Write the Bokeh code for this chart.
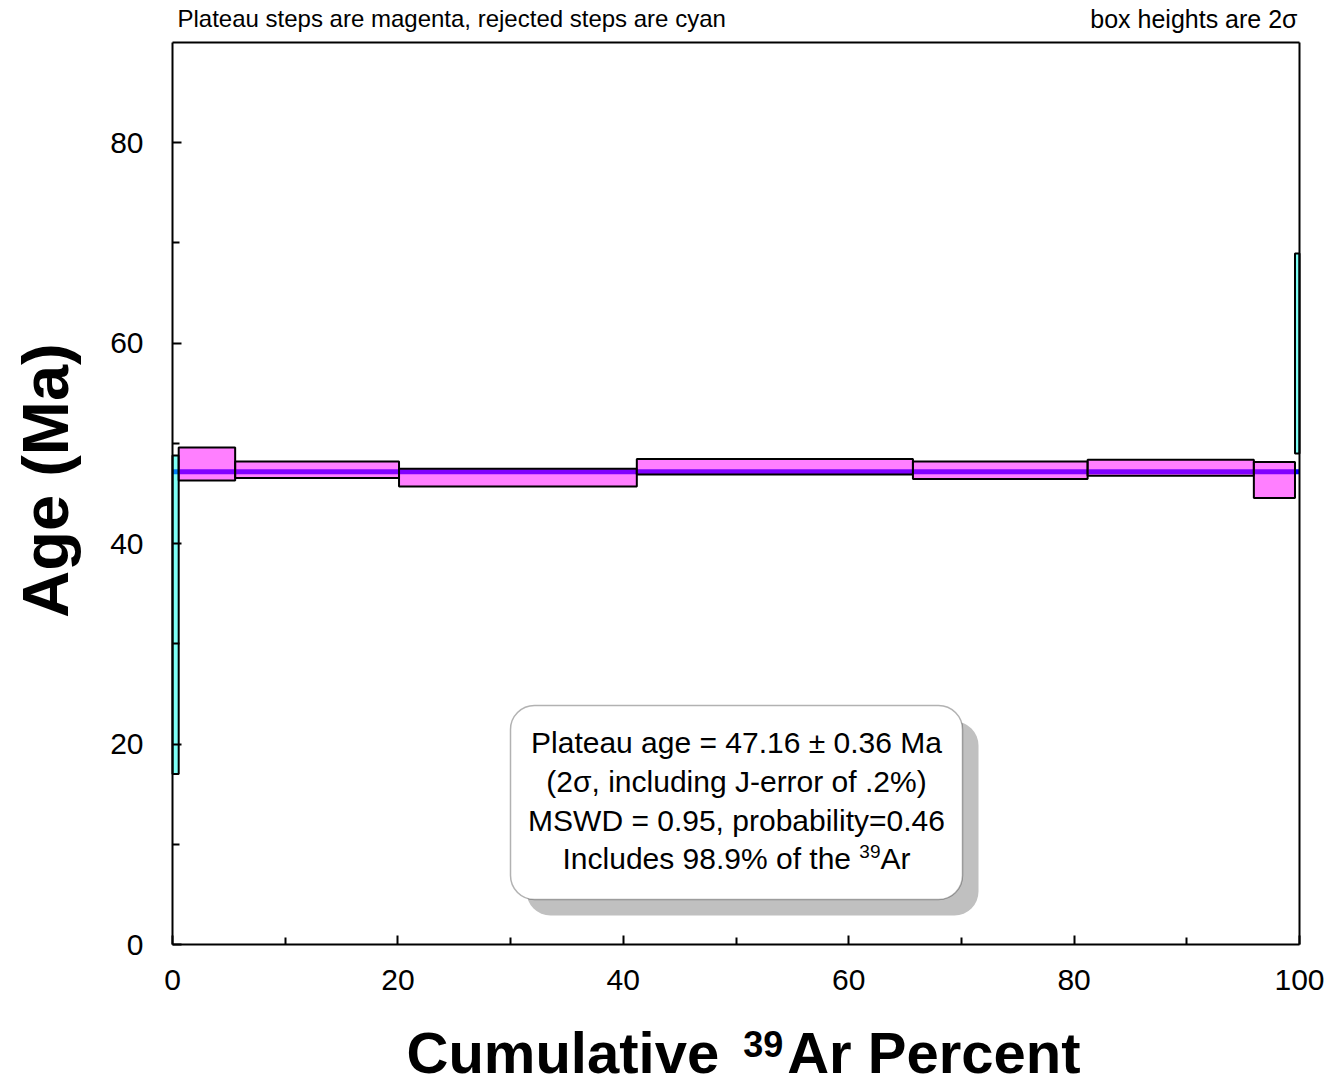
import math
from bokeh.plotting import figure
from bokeh.models import (Range1d, FixedTicker, Label, BoxAnnotation, ColumnDataSource,
                          LinearAxis)
from bokeh.embed import file_html
from bokeh.resources import INLINE

# ---- data ----
step_bounds = [0.0, 0.55, 5.56, 20.1, 41.2, 65.7, 81.2, 95.95, 99.6, 100.0]   # cumulative 39Ar %
step_age = [32.9, 47.95, 47.375, 46.59, 47.67, 47.325, 47.575, 46.345, 58.975]  # Ma
step_err2s = [15.9, 1.65, 0.825, 0.89, 0.77, 0.875, 0.795, 1.795, 9.975]        # 2 sigma
step_in_plateau = [False, True, True, True, True, True, True, True, False]
plateau_age = 47.16
x_ticks = [0, 20, 40, 60, 80, 100]
x_minor = [10, 30, 50, 70, 90]
y_ticks = [0, 20, 40, 60, 80]
y_minor = [10, 30, 50, 70]
x_lim = (0, 100)
y_lim = (0, 90)
box_lines = ["Plateau age = 47.16 \u00b1 0.36 Ma",
             "(2\u03c3, including J-error of .2%)",
             "MSWD = 0.95, probability=0.46"]
box_last = ("Includes 98.9% of the ", "39", "Ar")
xlabel_parts = ("Cumulative", "39", "Ar Percent")

FONT = "Liberation Sans"
W, H = 1332, 1085
# where the axes box sits on the canvas (px)
BOX_L, BOX_R, BOX_T, BOX_B = 172, 1299, 42, 944
SX = (BOX_R - BOX_L) / (x_lim[1] - x_lim[0])
SY = (BOX_B - BOX_T) / (y_lim[1] - y_lim[0])
BASE_SHIFT = 0.36   # em; compensates where the renderer puts the alphabetic baseline

# Arial / Liberation Sans advance widths (per 1 em)
REG = {' ': .278, '%': .889, '.': .278, 'A': .667, 'I': .278, 'a': .556, 'c': .5, 'd': .556,
       'e': .556, 'f': .278, 'h': .556, 'l': .222, 'n': .556, 'o': .556, 's': .5, 't': .278,
       'u': .556, 'r': .333}
BOLD = {' ': .278, 'C': .722, 'u': .611, 'm': .889, 'l': .278, 'a': .556, 't': .333, 'i': .278,
        'v': .556, 'e': .556, 'A': .722, 'r': .389, 'P': .667, 'c': .556, 'n': .611}


def tw(s, size, table):
    return sum(table.get(ch, .556) for ch in s) * size


def dx(px):
    return x_lim[0] + (px - BOX_L) / SX


def dy(py):
    return y_lim[0] + (BOX_B - py) / SY


def plabel(px, py, text, size, rotated=False, **kw):
    """Label whose alphabetic baseline lands at canvas pixel (px, py)."""
    if rotated:
        px = px - BASE_SHIFT * size
    else:
        py = py - BASE_SHIFT * size
    return Label(x=dx(px), y=dy(py), text=text, text_font=FONT, text_font_size=f"{size}px",
                 text_color="black", text_baseline="alphabetic", **kw)


# ---- figure: frame spans the whole canvas, axes are pinned at the data box ----
p = figure(width=W, height=H, output_backend="svg", toolbar_location=None, title=None,
           x_range=Range1d(dx(0), dx(W)), y_range=Range1d(dy(H), dy(0)),
           min_border=0, min_border_left=0, min_border_right=0, min_border_top=0,
           min_border_bottom=0)
p.grid.visible = False
p.background_fill_color = "white"
p.border_fill_color = "white"
p.outline_line_color = None


def style_axis(ax):
    ax.axis_line_color = "black"
    ax.axis_line_width = 2
    ax.major_tick_line_color = "black"
    ax.major_tick_line_width = 2
    ax.minor_tick_line_color = "black"
    ax.minor_tick_line_width = 2
    ax.major_tick_in = 9
    ax.major_tick_out = 0
    ax.minor_tick_in = 7
    ax.minor_tick_out = 0
    ax.major_label_text_font = FONT
    ax.major_label_text_font_size = "30px"
    ax.major_label_text_color = "black"


xa = p.xaxis[0]
ya = p.yaxis[0]
style_axis(xa)
style_axis(ya)
xa.ticker = FixedTicker(ticks=x_ticks, minor_ticks=x_minor)
ya.ticker = FixedTicker(ticks=y_ticks, minor_ticks=y_minor)
xa.fixed_location = y_lim[0]
ya.fixed_location = x_lim[0]
xa.bounds = x_lim
ya.bounds = y_lim
xa.major_label_standoff = 25
ya.major_label_standoff = 29

top_ax = LinearAxis(fixed_location=y_lim[1], bounds=x_lim, ticker=FixedTicker(ticks=[]))
right_ax = LinearAxis(fixed_location=x_lim[1], bounds=y_lim, ticker=FixedTicker(ticks=[]))
for ax in (top_ax, right_ax):
    style_axis(ax)
    ax.major_tick_in = 0
    ax.minor_tick_in = 0
p.add_layout(top_ax, "above")
p.add_layout(right_ax, "right")

# plateau line (drawn under translucent boxes)
p.line(x=[step_bounds[0], step_bounds[-1]], y=[plateau_age, plateau_age],
       line_color="#0000ff", line_width=5)

# step boxes
left = step_bounds[:-1]
right = step_bounds[1:]
top = [a + e for a, e in zip(step_age, step_err2s)]
bottom = [a - e for a, e in zip(step_age, step_err2s)]
colors = ["#ff00ff" if f else "#00ffee" for f in step_in_plateau]
src = ColumnDataSource(dict(left=left, right=right, top=top, bottom=bottom, color=colors))
p.quad(left="left", right="right", top="top", bottom="bottom", source=src,
       fill_color="color", fill_alpha=0.5, line_color="black", line_width=2)

# result box with shadow
p.add_layout(BoxAnnotation(left=dx(526), right=dx(978), top=dy(721), bottom=dy(915),
                           fill_color="#c0c0c0", fill_alpha=1, line_color=None,
                           border_radius=24))
p.add_layout(BoxAnnotation(left=dx(510), right=dx(962), top=dy(705), bottom=dy(899),
                           fill_color="white", fill_alpha=1, line_color="black",
                           line_width=1.5, border_radius=24))

BOXFS = 30
SUPFS = 19
BOX_CX = 736
LINE0, LSTEP = 753, 38.7
for i, t in enumerate(box_lines):
    p.add_layout(plabel(BOX_CX, LINE0 + LSTEP * i, t, BOXFS, text_align="center"))
w1 = tw(box_last[0], BOXFS, REG)
w2 = tw(box_last[1], SUPFS, REG)
w3 = tw(box_last[2], BOXFS, REG)
start = BOX_CX - (w1 + w2 + w3) / 2
yl = LINE0 + LSTEP * 3
p.add_layout(plabel(start, yl, box_last[0], BOXFS))
p.add_layout(plabel(start + w1, yl - 11, box_last[1], SUPFS))
p.add_layout(plabel(start + w1 + w2, yl, box_last[2], BOXFS))

# header notes
p.add_layout(plabel(177, 27, "Plateau steps are magenta, rejected steps are cyan", 24))
p.add_layout(plabel(1297, 27, "box heights are 2\u03c3", 25, text_align="right"))

# y axis title
p.add_layout(plabel(68, 480, "Age (Ma)", 65, rotated=True, angle=math.pi / 2,
                    text_align="center", text_font_style="bold"))

# x axis title with superscript
XFS = 58
SFS = 36
xw1 = tw(xlabel_parts[0], XFS, BOLD)
xw2 = tw(xlabel_parts[1], SFS, BOLD)
xw3 = tw(xlabel_parts[2], XFS, BOLD)
gap1, gap2 = 24, 4
total = xw1 + gap1 + xw2 + gap2 + xw3
xs = 743 - total / 2
yb = 1073
p.add_layout(plabel(xs, yb, xlabel_parts[0], XFS, text_font_style="bold"))
p.add_layout(plabel(xs + xw1 + gap1, yb - 17, xlabel_parts[1], SFS, text_font_style="bold"))
p.add_layout(plabel(xs + xw1 + gap1 + xw2 + gap2, yb, xlabel_parts[2], XFS,
                    text_font_style="bold"))

open("out.html", "w").write(file_html(p, INLINE))
